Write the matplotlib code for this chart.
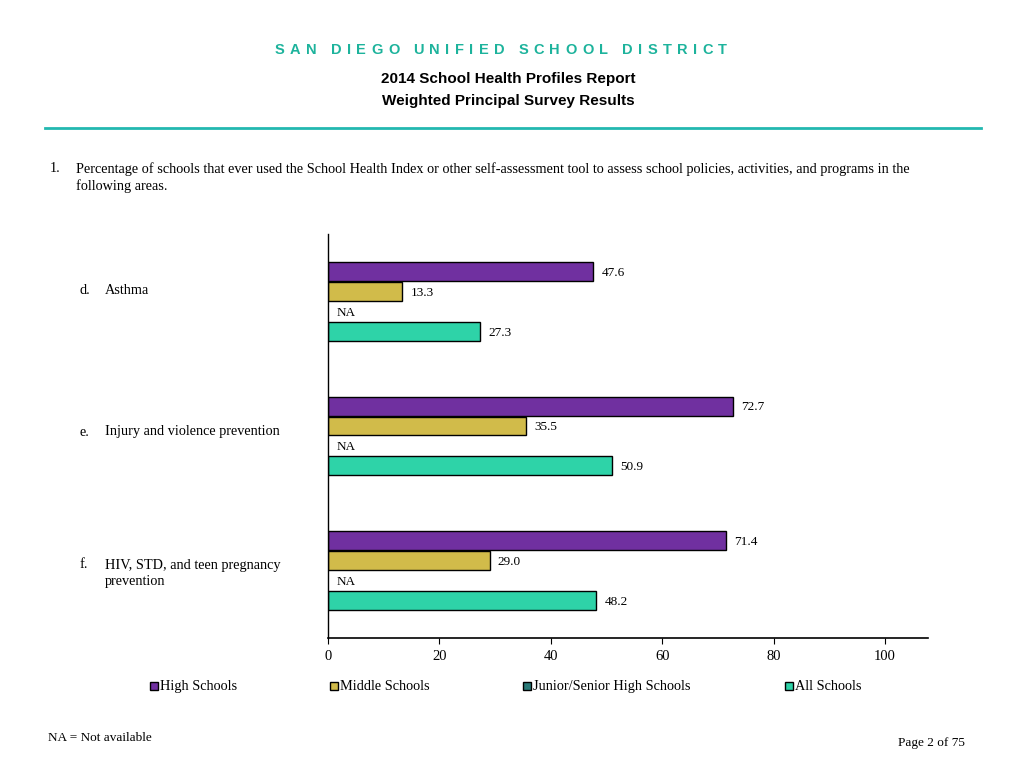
import matplotlib.pyplot as plt
from matplotlib.patches import Rectangle
import numpy as np

# data
categories = ["Asthma", "Injury and violence prevention", "HIV, STD, and teen pregnancy\nprevention"]
letters = ["d.", "e.", "f."]
series = ["High Schools", "Middle Schools", "Junior/Senior High Schools", "All Schools"]
high = [47.6, 72.7, 71.4]
middle = [13.3, 35.5, 29.0]
junior = [None, None, None]
allsch = [27.3, 50.9, 48.2]
colors = ["#7030a0", "#d1bb4a", "#2a7a78", "#2ed3a8"]
ticks = [0, 20, 40, 60, 80, 100]

serif = "Liberation Serif"
sans = "Liberation Sans"

fig = plt.figure(figsize=(10.24, 7.68), dpi=100)
renderer = fig.canvas.get_renderer()

W, H = 1024, 768
def fx(x):
    return x / W
def fy(y):
    return 1 - y / H

# header, letter-spaced by hand
title = "SAN DIEGO UNIFIED SCHOOL DISTRICT"
track = 5.4  # px between letters
widths = []
for ch in title:
    t = fig.text(0, 0, ch if ch != " " else "I", fontsize=10.5, fontweight="bold", family=sans)
    w = t.get_window_extent(renderer).width
    t.remove()
    widths.append(w if ch != " " else 3)
total = sum(widths) + track * (len(title) - 1)
x = 501 - total / 2
for ch, w in zip(title, widths):
    if ch != " ":
        fig.text(fx(x), fy(50), ch, ha="left", va="center", color="#1db39c",
                 fontsize=10.5, fontweight="bold", family=sans)
    x += w + track

fig.text(fx(508), fy(79), "2014 School Health Profiles Report", ha="center", va="center",
         fontsize=11, fontweight="bold", family=sans)
fig.text(fx(508), fy(101), "Weighted Principal Survey Results", ha="center", va="center",
         fontsize=11, fontweight="bold", family=sans)
fig.add_artist(plt.Line2D([fx(45), fx(981)], [fy(128), fy(128)], color="#22b8b0", lw=2))

# question
fig.text(fx(50), fy(169), "1.", ha="left", va="center", fontsize=10.3, family=serif)
fig.text(fx(76), fy(169), "Percentage of schools that ever used the School Health Index or other self-assessment tool to assess school policies, activities, and programs in the",
         ha="left", va="center", fontsize=10.3, family=serif)
fig.text(fx(76), fy(186), "following areas.", ha="left", va="center", fontsize=10.3, family=serif)

# chart
ax = fig.add_axes([fx(328), fy(638), fx(928) - fx(328), (638 - 234) / H])
ax.set_xlim(0, 600 / 5.57)
ax.set_ylim(2.5, -0.5)
step = 0.148
bh = 0.14
vals = [high, middle, junior, allsch]
y = np.arange(len(categories))
for k, (v, c) in enumerate(zip(vals, colors)):
    off = (k - 1.5) * step
    for i, val in enumerate(v):
        if val is None:
            ax.text(1.5, y[i] + off + 0.01, "NA", ha="left", va="center", fontsize=9.5, family=serif)
            continue
        ax.barh(y[i] + off, val, height=bh, color=c, edgecolor="black", linewidth=1)
        ax.text(val + 1.5, y[i] + off + 0.01, f"{val:.1f}", ha="left", va="center",
                fontsize=9.5, family=serif)

for s in ["top", "right"]:
    ax.spines[s].set_visible(False)
ax.spines["left"].set_linewidth(1)
ax.spines["bottom"].set_linewidth(1.2)
ax.set_yticks([])
ax.set_xticks(ticks)
ax.set_xticklabels([str(t) for t in ticks], family=serif, fontsize=10.5)
ax.tick_params(axis="x", direction="out", length=4, pad=5)

# category labels
label_y = [291, 432, 565]
for lt, cat, ly in zip(letters, categories, label_y):
    fig.text(fx(80), fy(ly), lt, ha="left", va="center", fontsize=10.3, family=serif)
    for j, line in enumerate(cat.split("\n")):
        fig.text(fx(105), fy(ly + 17 * j), line, ha="left", va="center", fontsize=10.3, family=serif)

# legend
leg_x = [150, 330, 523, 785]
for lx, name, c in zip(leg_x, series, colors):
    fig.add_artist(Rectangle((fx(lx), fy(690)), fx(8), 8 / H, facecolor=c, edgecolor="black", lw=1))
    fig.text(fx(lx + 10), fy(690), name, ha="left", va="baseline", fontsize=10.3, family=serif)

# footer
fig.text(fx(48), fy(738), "NA = Not available", ha="left", va="center", fontsize=9.5, family=serif)
fig.text(fx(965), fy(743), "Page 2 of 75", ha="right", va="center", fontsize=9.5, family=serif)

fig.savefig("out.png", dpi=100)
